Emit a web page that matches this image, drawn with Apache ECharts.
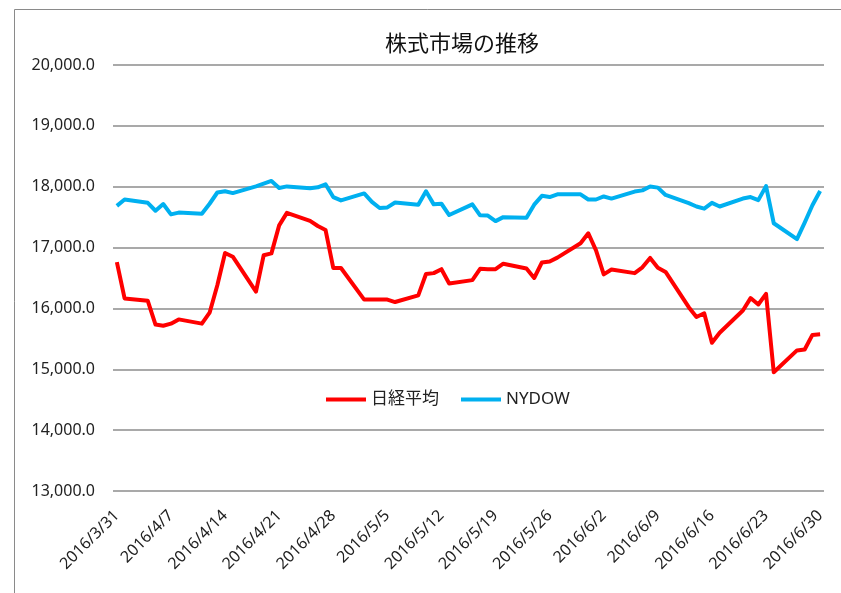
<!DOCTYPE html>
<html>
<head>
<meta charset="utf-8">
<script src="https://cdn.jsdelivr.net/npm/echarts@6/dist/echarts.min.js"></script>
<style>
  html, body { margin: 0; padding: 0; background: #fff; }
  #stockChart { width: 841px; height: 593px; }
</style>
</head>
<body>
<div id="stockChart"></div>
<script>
// trading days (weekdays) shown on the chart
let dates = [
  '2016/3/31', '2016/4/1',
  '2016/4/4', '2016/4/5', '2016/4/6', '2016/4/7', '2016/4/8',
  '2016/4/11', '2016/4/12', '2016/4/13', '2016/4/14', '2016/4/15',
  '2016/4/18', '2016/4/19', '2016/4/20', '2016/4/21', '2016/4/22',
  '2016/4/25', '2016/4/26', '2016/4/27', '2016/4/28', '2016/4/29',
  '2016/5/2', '2016/5/3', '2016/5/4', '2016/5/5', '2016/5/6',
  '2016/5/9', '2016/5/10', '2016/5/11', '2016/5/12', '2016/5/13',
  '2016/5/16', '2016/5/17', '2016/5/18', '2016/5/19', '2016/5/20',
  '2016/5/23', '2016/5/24', '2016/5/25', '2016/5/26', '2016/5/27',
  '2016/5/30', '2016/5/31', '2016/6/1', '2016/6/2', '2016/6/3',
  '2016/6/6', '2016/6/7', '2016/6/8', '2016/6/9', '2016/6/10',
  '2016/6/13', '2016/6/14', '2016/6/15', '2016/6/16', '2016/6/17',
  '2016/6/20', '2016/6/21', '2016/6/22', '2016/6/23', '2016/6/24',
  '2016/6/27', '2016/6/28', '2016/6/29', '2016/6/30'
];
let nikkei = [
  16760, 16165,
  16125, 15735, 15715, 15750, 15820,
  15750, 15930, 16380, 16910, 16850,
  16275, 16875, 16905, 17365, 17570,
  17440, 17355, 17290, 16665, 16665,
  16145, 16145, 16145, 16145, 16105,
  16215, 16565, 16580, 16645, 16410,
  16465, 16650, 16645, 16645, 16735,
  16655, 16500, 16755, 16770, 16835,
  17070, 17235, 16955, 16560, 16640,
  16580, 16675, 16830, 16670, 16600,
  16020, 15860, 15920, 15435, 15600,
  15965, 16170, 16065, 16240, 14950,
  15310, 15325, 15565, 15575
];
let nydow = [
  17685, 17790,
  17735, 17605, 17715, 17545, 17575,
  17555, 17720, 17905, 17925, 17895,
  18005, 18050, 18095, 17980, 18005,
  17975, 17990, 18040, 17830, 17775,
  17890, 17750, 17650, 17660, 17740,
  17705, 17925, 17710, 17720, 17535,
  17710, 17530, 17525, 17435, 17500,
  17490, 17705, 17850, 17830, 17875,
  17875, 17790, 17790, 17840, 17805,
  17920, 17940, 18005, 17985, 17865,
  17730, 17675, 17640, 17735, 17675,
  17805, 17830, 17780, 18010, 17400,
  17140, 17410, 17695, 17930
];
let tickLabels = [
  '2016/3/31', '2016/4/7', '2016/4/14', '2016/4/21', '2016/4/28',
  '2016/5/5', '2016/5/12', '2016/5/19', '2016/5/26', '2016/6/2',
  '2016/6/9', '2016/6/16', '2016/6/23', '2016/6/30'
];

// days counted from the first date
function dayOffset(s) {
  let p = s.split('/').map(Number);
  let f = dates[0].split('/').map(Number);
  return Math.round((Date.UTC(p[0], p[1] - 1, p[2]) - Date.UTC(f[0], f[1] - 1, f[2])) / 86400000);
}
let tickOffsets = tickLabels.map(dayOffset);
let lastDay = dayOffset(dates[dates.length - 1]);

let font = "'Noto Sans', 'Noto Sans CJK JP', sans-serif";

let option = {
  animation: false,
  backgroundColor: '#fff',
  textStyle: { fontFamily: font },
  title: {
    text: '株式市場の推移',
    left: 457,
    top: 29,
    textAlign: 'center',
    textStyle: { fontSize: 22, fontWeight: 'normal', color: '#111', fontFamily: font }
  },
  legend: {
    data: ['日経平均', 'NYDOW'],
    left: 321,
    top: 386,
    icon: 'rect',
    itemWidth: 40,
    itemHeight: 4,
    itemGap: 22,
    textStyle: { fontSize: 17, color: '#222', fontFamily: font }
  },
  grid: { left: 113, right: 17, top: 65, bottom: 102 },
  xAxis: {
    type: 'value',
    min: -0.5,
    max: lastDay + 0.5,
    axisLine: { show: false },
    axisTick: { show: false },
    splitLine: { show: false },
    axisLabel: {
      customValues: tickOffsets,
      rotate: 45,
      margin: 22,
      fontSize: 16,
      color: '#222',
      fontFamily: font,
      formatter: (v) => tickLabels[tickOffsets.indexOf(Math.round(v))] || ''
    }
  },
  yAxis: {
    type: 'value',
    min: 13000,
    max: 20000,
    interval: 1000,
    axisLine: { show: false },
    axisTick: { show: false },
    splitLine: { lineStyle: { color: '#8c8c8c', width: 1.5 } },
    axisLabel: {
      margin: 18,
      fontSize: 16,
      color: '#222',
      fontFamily: font,
      formatter: (v) => v.toFixed(1).replace(/\B(?=(\d{3})+(?!\d))/g, ',')
    }
  },
  // chart area border (only the left and top edges are inside the picture)
  graphic: [
    {
      type: 'line',
      shape: { x1: 14.5, y1: 9.5, x2: 841, y2: 9.5 },
      style: { stroke: '#8a8a8a', lineWidth: 1 },
      silent: true
    },
    {
      type: 'line',
      shape: { x1: 14.5, y1: 9.5, x2: 14.5, y2: 593 },
      style: { stroke: '#8a8a8a', lineWidth: 1 },
      silent: true
    }
  ],
  series: [
    {
      name: '日経平均',
      type: 'line',
      symbol: 'none',
      data: dates.map((d, i) => [dayOffset(d), nikkei[i]]),
      lineStyle: { color: '#ff0000', width: 4, join: 'round' },
      itemStyle: { color: '#ff0000' }
    },
    {
      name: 'NYDOW',
      type: 'line',
      symbol: 'none',
      data: dates.map((d, i) => [dayOffset(d), nydow[i]]),
      lineStyle: { color: '#00b0f0', width: 4, join: 'round' },
      itemStyle: { color: '#00b0f0' }
    }
  ]
};

let chart = echarts.init(document.getElementById('stockChart'));
chart.setOption(option);
</script>
</body>
</html>
